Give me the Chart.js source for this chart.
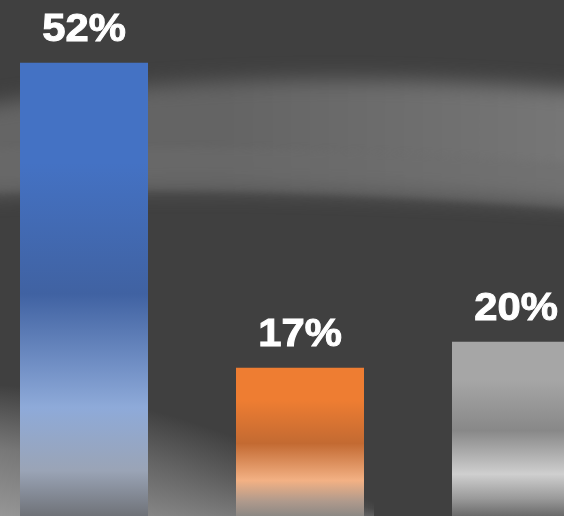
<!DOCTYPE html>
<html>
<head>
<meta charset="utf-8">
<script src="https://cdn.jsdelivr.net/npm/chart.js@4.4.1/dist/chart.umd.min.js"></script>
<style>
  html, body { margin: 0; padding: 0; width: 564px; height: 516px; overflow: hidden; background: #404040; }
  #wrap { position: absolute; left: -24px; top: 0; width: 648px; height: 516px; }
</style>
</head>
<body>
<div id="wrap"><canvas id="c" width="648" height="516"></canvas></div>
<script>
const categories = ['A', 'B', 'C'];
const values = [52, 17, 20];
const valueLabels = ['52%', '17%', '20%'];
const yMax = 59.2;

// gradient stops per bar: [top, middle-dark, light, lower, bottom]
const barStops = [
  ['#4472c4', '#4062a2', '#8eaad9', '#9aa4b6', '#6f7278'],
  ['#ee7d32', '#c36a32', '#f3b184', '#b09a8c', '#8c8884'],
  ['#a6a6a6', '#888888', '#cfcfcf', '#9a9a9a', '#6a6a6a']
];

const OFF = 24;

const bgPlugin = {
  id: 'bg',
  beforeDraw(chart) {
    const ctx = chart.ctx;
    ctx.save();
    ctx.fillStyle = '#404040';
    ctx.fillRect(0, 0, chart.width, chart.height);
    ctx.translate(OFF, 0);
    // upper swoosh band
    ctx.filter = 'blur(10px)';
    let g = ctx.createLinearGradient(0, 0, 564, 0);
    g.addColorStop(0, '#656565');
    g.addColorStop(0.4, '#646464');
    g.addColorStop(1, '#767676');
    ctx.fillStyle = g;
    ctx.beginPath();
    ctx.moveTo(-30, 108);
    ctx.quadraticCurveTo(250, 60, 600, 92);
    ctx.lineTo(600, 205);
    ctx.quadraticCurveTo(250, 180, -30, 195);
    ctx.closePath();
    ctx.fill();
    // sharper lower edge
    ctx.filter = 'blur(3px)';
    ctx.fillStyle = 'rgba(108,108,108,0.45)';
    ctx.beginPath();
    ctx.moveTo(-30, 150);
    ctx.quadraticCurveTo(250, 140, 600, 165);
    ctx.lineTo(600, 210);
    ctx.quadraticCurveTo(250, 182, -30, 193);
    ctx.closePath();
    ctx.fill();
    ctx.filter = 'none';
    ctx.restore();
  },
  beforeDatasetsDraw(chart) {
    const ctx = chart.ctx;
    ctx.save();
    ctx.translate(OFF, 0);
    // lower-left haze, drawn as thin vertical strips under a curved edge
    const step = 2;
    for (let x = -OFF; x < 420; x += step) {
      const xx = Math.max(0, x);
      const top = 395 + 0.0677 * xx + 0.00066 * xx * xx;
      if (top >= 512) continue;
      const fade = Math.max(0, 1 - xx / 430);
      const h = ctx.createLinearGradient(0, top - 10, 0, 516);
      h.addColorStop(0, 'rgba(145,145,145,0)');
      h.addColorStop(0.5, 'rgba(145,145,145,' + (0.7 * fade).toFixed(3) + ')');
      h.addColorStop(1, 'rgba(150,150,150,' + Math.sqrt(fade).toFixed(3) + ')');
      ctx.fillStyle = h;
      ctx.fillRect(x, top - 10, step, 516 - top + 10);
    }
    ctx.restore();
  }
};

const labelPlugin = {
  id: 'labels',
  afterDatasetsDraw(chart) {
    const ctx = chart.ctx;
    const meta = chart.getDatasetMeta(0);
    meta.data.forEach((bar, i) => {
      ctx.save();
      ctx.translate(bar.x, bar.y - 22);
      ctx.scale(1.07, 1);
      ctx.fillStyle = '#ffffff';
      ctx.strokeStyle = '#ffffff';
      ctx.lineWidth = 1;
      ctx.font = 'bold 39px "Liberation Sans", Arial, sans-serif';
      ctx.textAlign = 'center';
      ctx.textBaseline = 'alphabetic';
      ctx.fillText(valueLabels[i], 0, 0);
      ctx.strokeText(valueLabels[i], 0, 0);
      ctx.restore();
    });
  }
};

function barGradient(context) {
  const chart = context.chart;
  const i = context.dataIndex;
  const s = barStops[i];
  const yScale = chart.scales.y;
  if (!yScale) return s[0];
  const top = yScale.getPixelForValue(values[i]);
  const bottom = yScale.getPixelForValue(0);
  if (!isFinite(top) || !isFinite(bottom) || top === bottom) return s[0];
  const g = chart.ctx.createLinearGradient(0, top, 0, bottom);
  g.addColorStop(0, s[0]);
  g.addColorStop(0.22, s[0]);
  g.addColorStop(0.51, s[1]);
  g.addColorStop(0.76, s[2]);
  g.addColorStop(0.9, s[3]);
  g.addColorStop(1, s[4]);
  return g;
}

new Chart(document.getElementById('c'), {
  type: 'bar',
  data: {
    labels: categories,
    datasets: [{
      data: values,
      backgroundColor: barGradient,
      borderWidth: 0,
      categoryPercentage: 1,
      barPercentage: 128 / 216
    }]
  },
  options: {
    responsive: false,
    animation: false,
    layout: { padding: 0 },
    plugins: { legend: { display: false }, tooltip: { enabled: false } },
    scales: {
      x: { display: false, offset: true },
      y: { display: false, min: 0, max: yMax }
    }
  },
  plugins: [bgPlugin, labelPlugin]
});
</script>
</body>
</html>
